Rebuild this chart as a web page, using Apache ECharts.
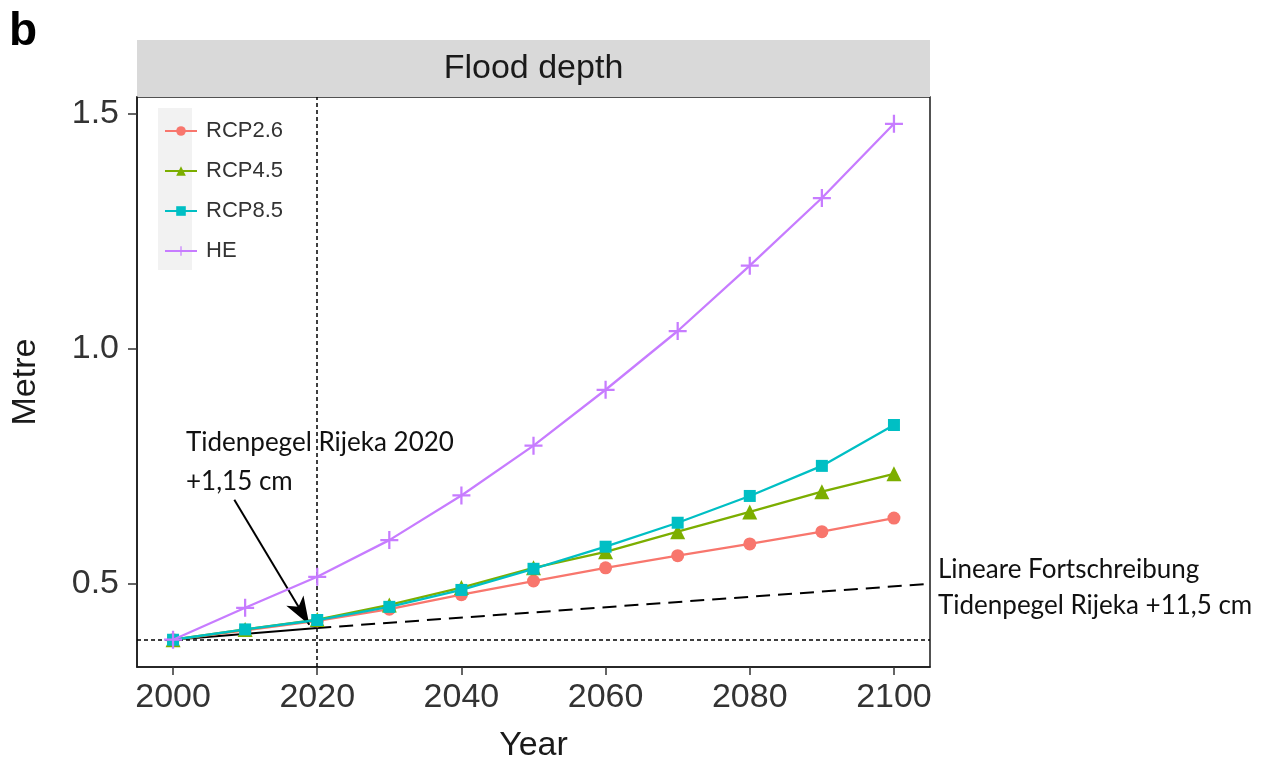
<!DOCTYPE html>
<html>
<head>
<meta charset="utf-8">
<script src="https://cdn.jsdelivr.net/npm/echarts@6/dist/echarts.min.js"></script>
<style>
html,body{margin:0;padding:0;background:#fff;}
#chart{width:1265px;height:773px;}
</style>
</head>
<body>
<div id="chart"></div>
<script>
// ---- data ----
const years = [2000, 2010, 2020, 2030, 2040, 2050, 2060, 2070, 2080, 2090, 2100];
const rcp26 = [0.381, 0.401, 0.421, 0.446, 0.477, 0.506, 0.534, 0.560, 0.585, 0.611, 0.640];
const rcp45 = [0.381, 0.403, 0.424, 0.455, 0.492, 0.534, 0.568, 0.611, 0.653, 0.696, 0.734];
const rcp85 = [0.381, 0.403, 0.423, 0.451, 0.487, 0.532, 0.579, 0.630, 0.687, 0.751, 0.838];
const he    = [0.381, 0.449, 0.515, 0.593, 0.688, 0.794, 0.913, 1.038, 1.177, 1.321, 1.479];
const seriesNames = ['RCP2.6', 'RCP4.5', 'RCP8.5', 'HE'];
const xTicks = [2000, 2020, 2040, 2060, 2080, 2100];
const yTicks = [0.5, 1.0, 1.5];
const baseLevel = 0.381;          // horizontal dotted reference
const refYear = 2020;             // vertical dotted reference
const gaugeSolid = [[2000, 0.381], [2020, 0.406]];
const gaugeDashed = [[2020, 0.406], [2105, 0.500]];
const arrowFrom = [2008.5, 0.679];
const arrowTo = [2018.9, 0.413];
const annotLeft = ['Tidenpegel Rijeka 2020', '+1,15 cm'];
const annotRight = ['Lineare Fortschreibung', 'Tidenpegel Rijeka +11,5 cm'];
const panelTitle = 'Flood depth';
const panelTag = 'b';

const colors = ['#F8766D', '#7CAE00', '#00BFC4', '#C77CFF'];
const plusPath = 'path://M-1,-8h2v16h-2zM-8,-1h16v2h-16z';
const symbols = ['circle', 'triangle', 'rect', plusPath];
const symSizes = [13, 15, 12, 18];
const values = [rcp26, rcp45, rcp85, he];

const G = {left: 137, top: 97, right: 930, bottom: 667};
const sans = 'Liberation Sans, Arial, Helvetica, sans-serif';
const calib = 'Lato, Carlito, Calibri, sans-serif';

const chart = echarts.init(document.getElementById('chart'), null, {renderer: 'canvas'});

const dataSeries = seriesNames.map((n, i) => ({
  name: n,
  type: 'line',
  data: years.map((y, k) => [y, values[i][k]]),
  symbol: symbols[i],
  symbolSize: symSizes[i],
  showSymbol: true,
  symbolKeepAspect: true,
  lineStyle: {color: colors[i], width: 2.3},
  itemStyle: {color: colors[i]},
  z: 3 + i,
  animation: false
}));

const option = {
  animation: false,
  backgroundColor: '#ffffff',
  grid: {
    left: G.left, top: G.top, right: 1265 - G.right, bottom: 773 - G.bottom,
    show: true, borderColor: '#1a1a1a', borderWidth: 1.5, backgroundColor: 'transparent'
  },
  legend: {
    data: seriesNames,
    orient: 'vertical',
    left: 159, top: 115,
    itemWidth: 32, itemHeight: 12, itemGap: 18,
    textStyle: {fontSize: 22, color: '#333', fontFamily: sans, padding: [0, 0, 0, 4]},
    z: 10
  },
  xAxis: {
    type: 'value', min: 1995, max: 2105,
    name: 'Year', nameLocation: 'middle', nameGap: 62,
    nameTextStyle: {fontSize: 34, color: '#1a1a1a', fontFamily: sans},
    splitLine: {show: false},
    axisLine: {show: true, lineStyle: {color: '#1a1a1a', width: 1.5}},
    axisTick: {show: true, length: 8, customValues: xTicks, lineStyle: {color: '#333', width: 1.5}},
    axisLabel: {customValues: xTicks, fontSize: 34, color: '#333', fontFamily: sans, margin: 14,
      formatter: v => String(v)}
  },
  yAxis: {
    type: 'value', min: 0.323, max: 1.536,
    name: 'Metre', nameLocation: 'middle', nameGap: 94, nameRotate: 90,
    nameTextStyle: {fontSize: 34, color: '#1a1a1a', fontFamily: sans},
    splitLine: {show: false},
    axisLine: {show: true, lineStyle: {color: '#1a1a1a', width: 1.5}},
    axisTick: {show: true, length: 9, customValues: yTicks, lineStyle: {color: '#333', width: 1.5}},
    axisLabel: {customValues: yTicks, fontSize: 34, color: '#333', fontFamily: sans, margin: 18,
      formatter: v => v.toFixed(1)}
  },
  graphic: [
    {type: 'rect', left: G.left, top: 40, z: 0,
      shape: {width: G.right - G.left, height: G.top - 40},
      style: {fill: '#d9d9d9'}},
    {type: 'text', x: (G.left + G.right) / 2, y: 69, z: 5,
      style: {text: panelTitle, font: '34px ' + sans, fill: '#1a1a1a', align: 'center', verticalAlign: 'middle'}},
    {type: 'text', x: 9, y: 32, z: 5,
      style: {text: panelTag, font: 'bold 46px ' + sans, fill: '#000', align: 'left', verticalAlign: 'middle'}},
    {type: 'rect', left: 158, top: 108, z: 0,
      shape: {width: 34, height: 162},
      style: {fill: '#f2f2f2'}},
    {type: 'text', x: 186, y: 443, z: 8,
      style: {text: annotLeft[0], font: '26px ' + calib, fill: '#111', align: 'left', verticalAlign: 'middle'}},
    {type: 'text', x: 186, y: 482, z: 8,
      style: {text: annotLeft[1], font: '26px ' + calib, fill: '#111', align: 'left', verticalAlign: 'middle'}},
    {type: 'text', x: 938, y: 570, z: 8,
      style: {text: annotRight[0], font: '26px ' + calib, fill: '#111', align: 'left', verticalAlign: 'middle'}},
    {type: 'text', x: 938, y: 606, z: 8,
      style: {text: annotRight[1], font: '26px ' + calib, fill: '#111', align: 'left', verticalAlign: 'middle'}}
  ],
  series: [
    {
      name: 'refs', type: 'line', data: gaugeSolid, symbol: 'none',
      lineStyle: {color: '#000', width: 2}, z: 2, silent: true,
      markLine: {
        silent: true, symbol: ['none', 'none'], label: {show: false},
        lineStyle: {color: '#000', width: 1.5, type: [4, 3]},
        data: [{yAxis: baseLevel}, {xAxis: refYear}]
      }
    },
    {
      name: 'trend', type: 'line', data: gaugeDashed, symbol: 'none',
      lineStyle: {color: '#000', width: 2, type: [14, 8]}, z: 2, silent: true,
      markLine: {
        silent: true, symbol: ['none', 'arrow'], symbolSize: [15, 28], label: {show: false},
        lineStyle: {color: '#000', width: 2, type: 'solid'},
        data: [[{coord: arrowFrom}, {coord: arrowTo}]]
      }
    }
  ].concat(dataSeries)
};
chart.setOption(option);
</script>
</body>
</html>
